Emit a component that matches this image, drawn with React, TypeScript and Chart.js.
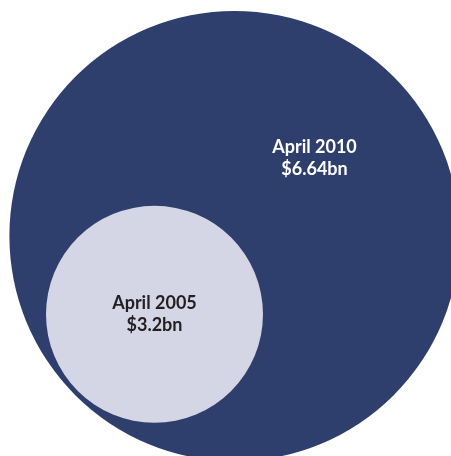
import { useEffect, useRef } from "react";
import { Chart, registerables } from "chart.js";

Chart.register(...registerables);

// Data
const periods = ["April 2010", "April 2005"];
const amountLabels = ["$6.64bn", "$3.2bn"];
const amounts = [6.64, 3.2]; // $bn, used as circle radius in axis units
const centerX = [0, -2.36];
const centerY = [0, -2.31];

const fillColors = ["#2f3f6d", "#d4d6e6"];
const textColors = ["#ffffff", "#231f20"];

const labelPlugin = {
  id: "circleLabels",
  afterDatasetsDraw(chart: any) {
    const meta = chart.getDatasetMeta(0);
    const big = meta.data[0];
    const small = meta.data[1];
    const positions = [
      { x: 2 * big.x - small.x, y: 2 * big.y - small.y },
      { x: small.x, y: small.y },
    ];
    const ctx = chart.ctx;
    ctx.save();
    ctx.font = "bold 18px Lato, 'Noto Sans', sans-serif";
    ctx.textAlign = "center";
    ctx.textBaseline = "middle";
    const gap = 22;
    periods.forEach((p, i) => {
      ctx.fillStyle = textColors[i];
      const { x, y } = positions[i];
      ctx.fillText(p, x, y - gap / 2);
      ctx.fillText(amountLabels[i], x, y + gap / 2);
    });
    ctx.restore();
  },
};

const radiusFromScale = (c: any) => {
  const xs = c.chart.scales.x;
  if (!xs) return 0;
  const unit = Math.abs(xs.getPixelForValue(1) - xs.getPixelForValue(0));
  return amounts[c.dataIndex] * unit;
};

export default function App() {
  const ref = useRef<HTMLCanvasElement | null>(null);

  useEffect(() => {
    document.body.style.margin = "0";
    const canvas = ref.current;
    if (!canvas) return;
    const chart = new Chart(canvas, {
      type: "scatter",
      data: {
        datasets: [
          {
            data: amounts.map((_, i) => ({ x: centerX[i], y: centerY[i] })),
            showLine: false,
            backgroundColor: fillColors,
            pointBackgroundColor: fillColors,
            pointBorderWidth: 0,
            pointHoverBorderWidth: 0,
            pointRadius: radiusFromScale,
            pointHoverRadius: radiusFromScale,
            clip: false,
          } as any,
        ],
      },
      options: {
        responsive: false,
        animation: false,
        maintainAspectRatio: false,
        layout: { padding: 0 },
        events: [],
        plugins: {
          legend: { display: false },
          tooltip: { enabled: false },
        },
        scales: {
          x: { type: "linear", display: false, min: -6.917, max: 6.386 },
          y: { type: "linear", display: false, min: -6.49, max: 6.962 },
        },
      },
      plugins: [labelPlugin],
    });
    return () => chart.destroy();
  }, []);

  return (
    <div style={{ width: 451, height: 456 }}>
      <canvas ref={ref} width={451} height={456} style={{ display: "block" }} />
    </div>
  );
}
